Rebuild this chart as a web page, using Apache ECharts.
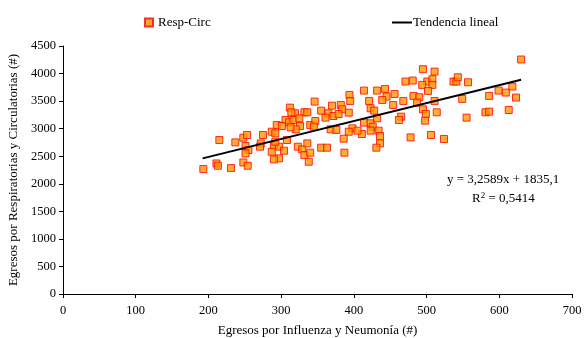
<!DOCTYPE html>
<html>
<head>
<meta charset="utf-8">
<script src="https://cdn.jsdelivr.net/npm/echarts@6/dist/echarts.min.js"></script>
<style>
  html, body { margin: 0; padding: 0; background: #fff; }
  #chart { width: 584px; height: 338px; }
</style>
</head>
<body>
<div id="chart"></div>
<script>
// Egresos por Influenza y Neumonía (x) vs Respiratorias y Circulatorias (y)
var respX = [
  215, 237, 248, 253, 251, 255, 251, 275, 272, 271, 193, 211, 213, 231, 248, 254,
  346, 312, 319, 314, 332, 336, 355, 370, 365, 361, 372, 294, 306, 311, 317, 325,
  326, 320, 313, 301, 287, 292, 340, 347, 345, 368, 376, 323, 329, 336, 332, 340,
  338, 290, 287, 297, 304, 297, 290, 308, 355, 363, 292,
  394, 395, 414, 432, 443, 445, 439, 456, 468, 471, 481, 482, 421, 423, 428, 454,
  382, 384, 393, 379, 414, 423, 426, 432, 465, 462, 398, 393, 386, 411, 405, 423,
  434, 436, 436, 431, 478, 387,
  495, 511, 501, 508, 508, 494, 502, 537, 541, 543, 557, 490, 487, 511, 549, 586,
  495, 499, 514, 498, 555, 581, 586, 506, 524,
  630, 618, 599, 609, 623, 613
];
var respY = [
  2795, 2751, 2836, 2885, 2685, 2613, 2551, 2885, 2733, 2673, 2267, 2369, 2327, 2285, 2387, 2327,
  3491, 3382, 3279, 3297, 3297, 3297, 3327, 3418, 3279, 3200, 3230, 3067, 3158, 3115, 3158, 3188,
  3048, 2988, 3024, 3048, 2945, 2915, 3067, 3139, 3036, 2988, 2976, 2673, 2624, 2733, 2521, 2564,
  2400, 2703, 2582, 2673, 2600, 2461, 2442, 2794, 2655, 2655, 2764,
  3612, 3503, 3691, 3691, 3721, 3582, 3521, 3630, 3503, 3855, 3873, 3594, 3503, 3370, 3327, 3430,
  3430, 3352, 3291, 3267, 3109, 3097, 3036, 3188, 3218, 3158, 3006, 2945, 2818, 2903, 2964, 2964,
  2964, 2867, 2733, 2655, 2842, 2564,
  4079, 4036, 3855, 3897, 3794, 3794, 3685, 3855, 3855, 3933, 3842, 3570, 3473, 3503, 3540, 3594,
  3351, 3267, 3297, 3145, 3200, 3297, 3309, 2885, 2812,
  4255, 3764, 3691, 3655, 3564, 3339
];
// trend line end points as drawn
var trendX = [192, 630];
var trendY = [2461, 3888];

var xTicks = [0, 100, 200, 300, 400, 500, 600, 700];
var yTicks = [0, 500, 1000, 1500, 2000, 2500, 3000, 3500, 4000, 4500];

var serif = '"Liberation Serif", "DejaVu Serif", serif';

var chart = echarts.init(document.getElementById('chart'), null, { renderer: 'canvas' });

var option = {
  animation: false,
  textStyle: { fontFamily: serif, color: '#000' },
  grid: { left: 63, right: 12, top: 46, bottom: 44, containLabel: false, outerBoundsMode: 'none' },
  legend: [
    {
      left: 139, top: 11,
      data: [{ name: 'Resp-Circ', icon: 'rect' }],
      itemWidth: 8, itemHeight: 8,
      textStyle: { fontFamily: serif, fontSize: 13, color: '#000' }
    },
    {
      left: 387, top: 11,
      data: [{ name: 'Tendencia lineal', icon: 'rect' }],
      itemWidth: 20, itemHeight: 2,
      itemStyle: { borderWidth: 0 },
      textStyle: { fontFamily: serif, fontSize: 13, color: '#000', padding: [0, 0, 0, -4] }
    }
  ],
  xAxis: {
    type: 'value',
    min: xTicks[0], max: xTicks[xTicks.length - 1], interval: 100,
    name: 'Egresos por Influenza y Neumonía (#)',
    nameLocation: 'middle', nameGap: 30,
    nameTextStyle: { fontFamily: serif, fontSize: 13, color: '#000' },
    axisLine: { lineStyle: { color: '#000', width: 1 } },
    axisTick: { length: 4, lineStyle: { color: '#000' } },
    axisLabel: { margin: 10, fontFamily: serif, fontSize: 12.5, color: '#000',
      formatter: function (v) { return String(v); } },
    splitLine: { show: false }
  },
  yAxis: {
    type: 'value',
    min: yTicks[0], max: yTicks[yTicks.length - 1], interval: 500,
    name: 'Egresos por Respiratorias y Circulatorias (#)',
    nameLocation: 'middle', nameGap: 43,
    nameTextStyle: { fontFamily: serif, fontSize: 13, color: '#000' },
    axisLine: { show: true, lineStyle: { color: '#000', width: 1 } },
    axisTick: { show: true, length: 4, lineStyle: { color: '#000' } },
    axisLabel: { margin: 7, fontFamily: serif, fontSize: 12.5, color: '#000',
      formatter: function (v) { return String(v); } },
    splitLine: { show: false }
  },
  series: [
    {
      name: 'Resp-Circ',
      type: 'scatter',
      symbol: 'rect',
      symbolSize: 7,
      itemStyle: { color: '#FF9900', borderColor: '#FF0000', borderWidth: 1 },
      data: respX.map(function (x, i) { return [x, respY[i]]; }),
      z: 3
    },
    {
      name: 'Tendencia lineal',
      type: 'line',
      showSymbol: false,
      symbol: 'none',
      lineStyle: { color: '#000', width: 2 },
      itemStyle: { color: '#000' },
      data: trendX.map(function (x, i) { return [x, trendY[i]]; }),
      z: 4
    }
  ],
  graphic: [
    {
      type: 'text', left: 447, top: 173,
      style: { text: 'y = 3,2589x + 1835,1', font: '13px ' + serif, fill: '#000' }
    },
    {
      type: 'text', left: 472, top: 191,
      style: {
        text: 'R{sup|2} = 0,5414',
        font: '13px ' + serif, fill: '#000',
        rich: { sup: { fontSize: 9, verticalAlign: 'top', padding: [0, 0, 6, 0], fontFamily: serif } }
      }
    }
  ]
};

chart.setOption(option);
</script>
</body>
</html>
